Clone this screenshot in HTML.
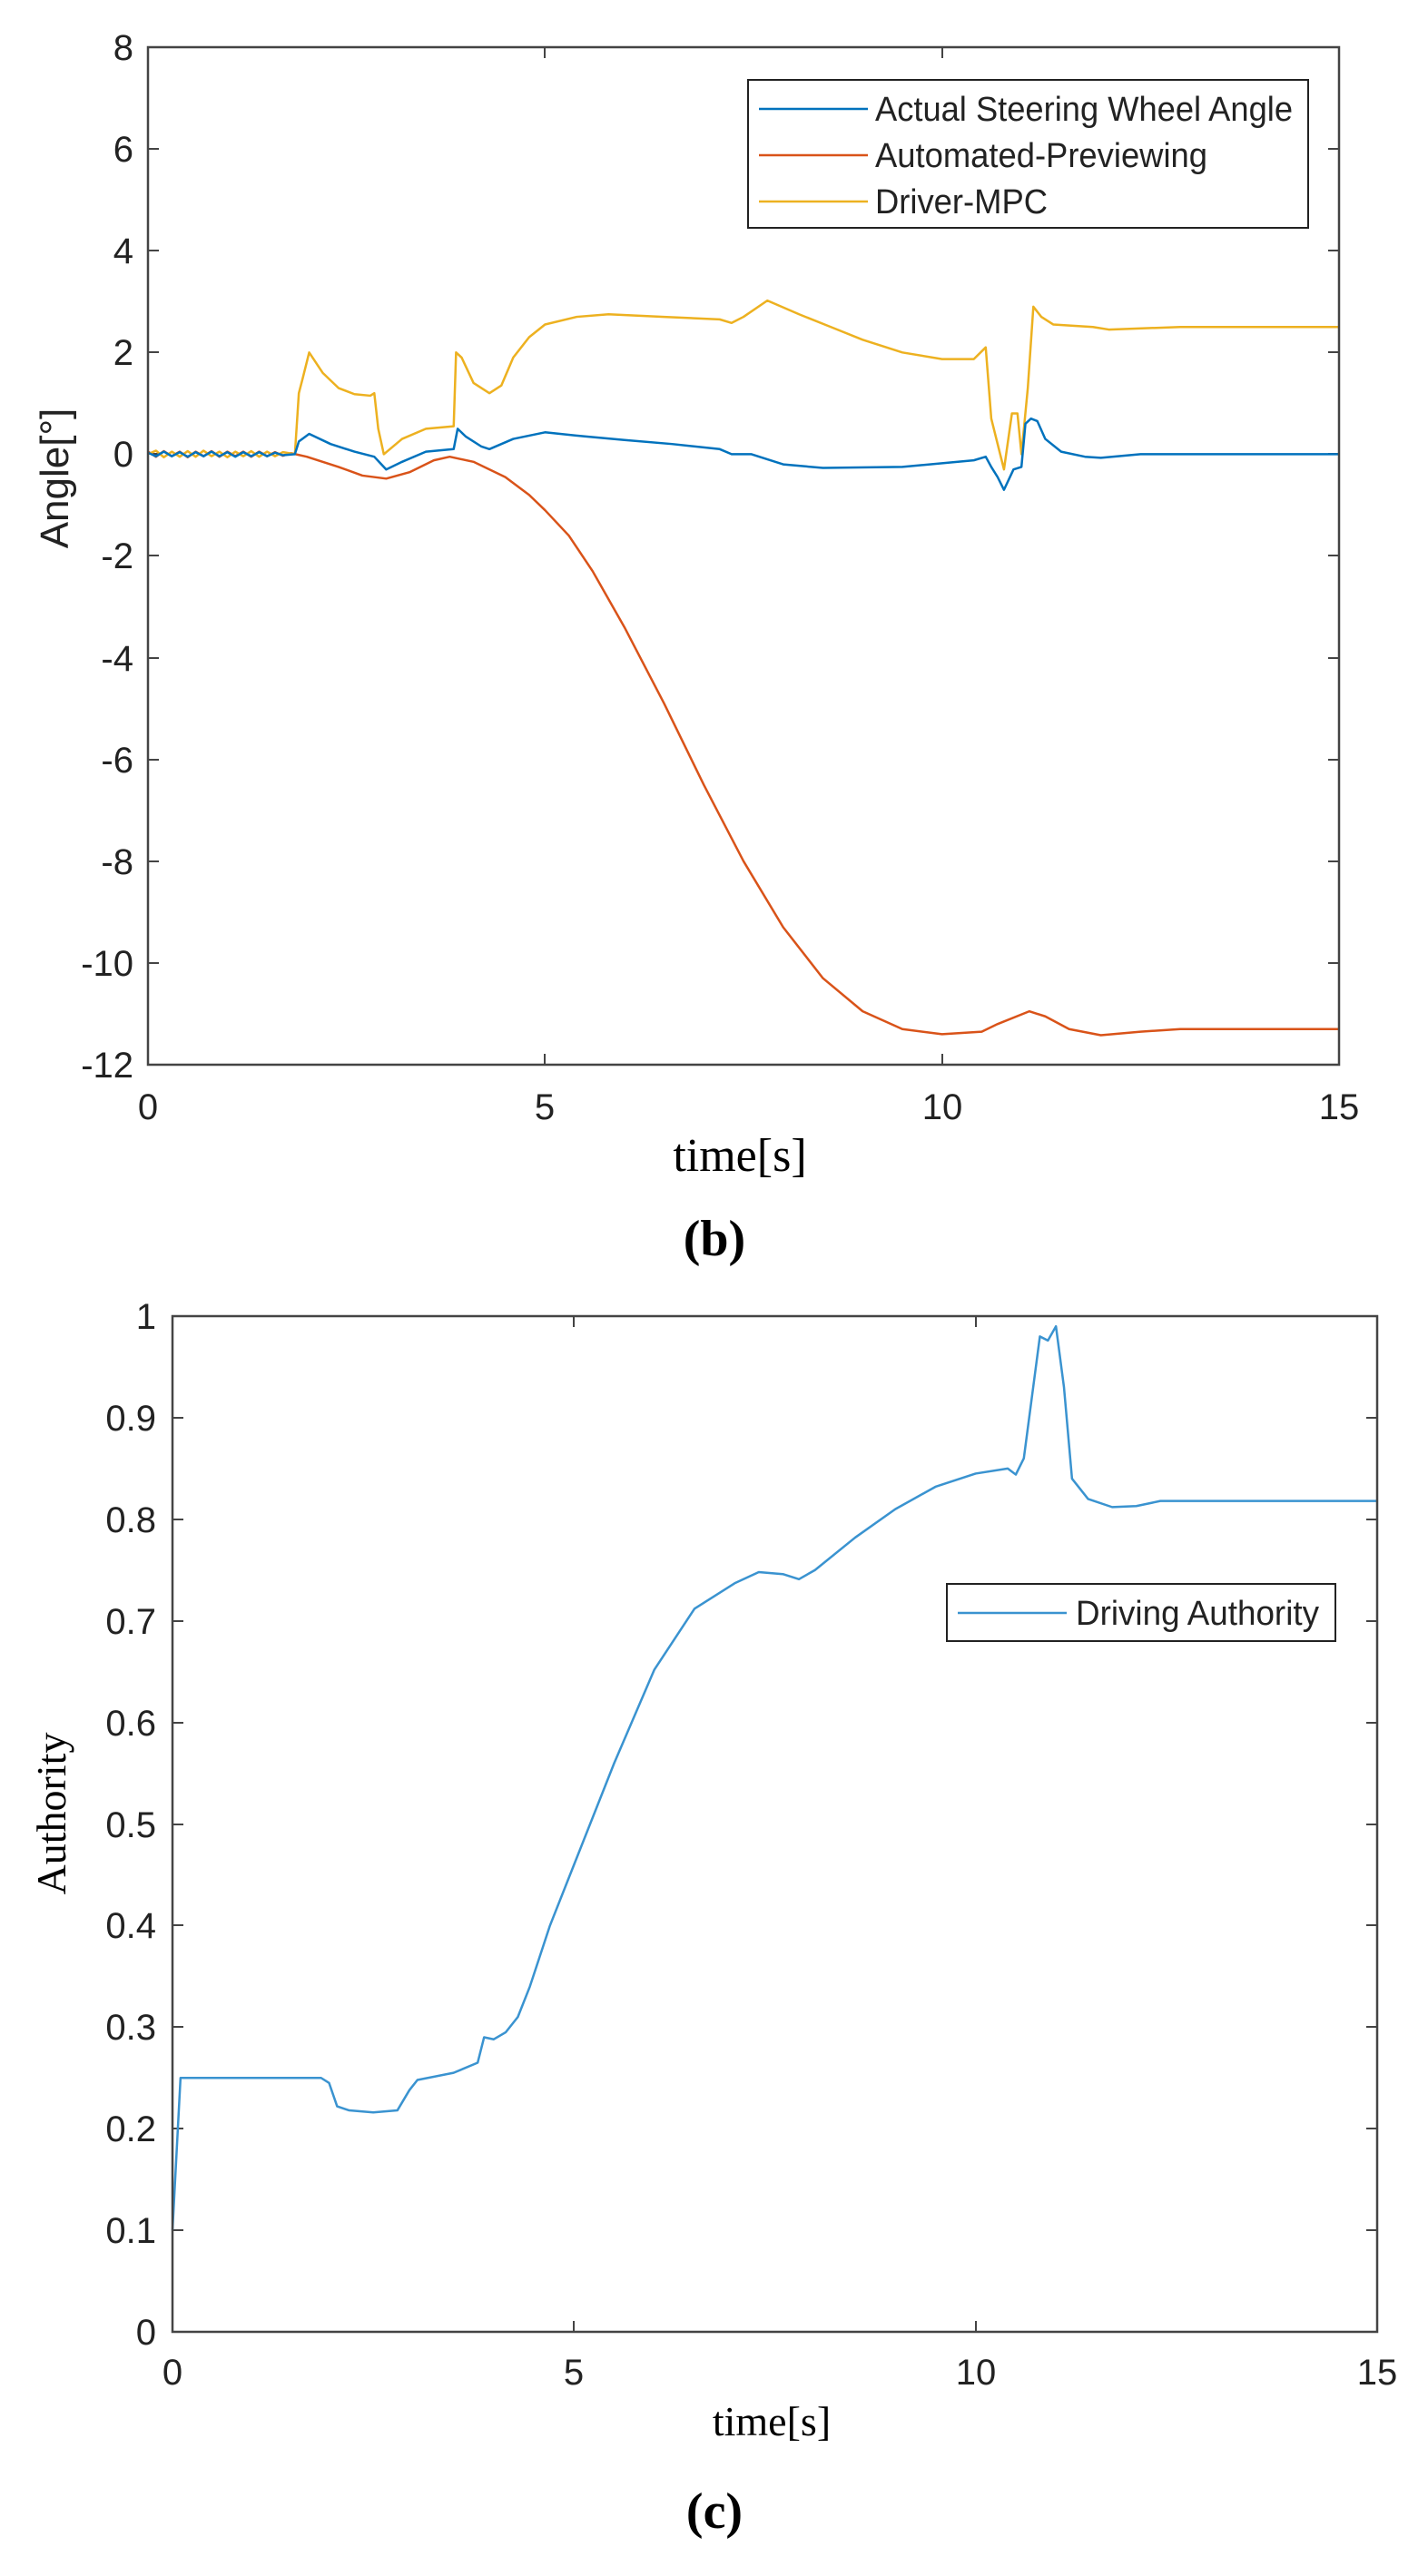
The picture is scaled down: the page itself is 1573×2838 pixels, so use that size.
<!DOCTYPE html>
<html><head><meta charset="utf-8"><style>
html,body{margin:0;padding:0;background:#fff}
svg{display:block}
.tk{font-family:"Liberation Sans",sans-serif;font-size:40px;fill:#222}
.tk2{font-family:"Liberation Sans",sans-serif;font-size:38px;fill:#222}
.ser{font-family:"Liberation Serif",serif;fill:#000}
</style></head><body>
<svg width="1573" height="2838" viewBox="0 0 1573 2838" xmlns="http://www.w3.org/2000/svg">
<rect width="1573" height="2838" fill="#fff"/>
<g stroke="#444" stroke-width="2">
<line x1="163" y1="164" x2="175" y2="164"/><line x1="163" y1="276" x2="175" y2="276"/><line x1="163" y1="388" x2="175" y2="388"/><line x1="163" y1="500" x2="175" y2="500"/><line x1="163" y1="612" x2="175" y2="612"/><line x1="163" y1="725" x2="175" y2="725"/><line x1="163" y1="837" x2="175" y2="837"/><line x1="163" y1="949" x2="175" y2="949"/><line x1="163" y1="1061" x2="175" y2="1061"/>
<line x1="1475" y1="164" x2="1463" y2="164"/><line x1="1475" y1="276" x2="1463" y2="276"/><line x1="1475" y1="388" x2="1463" y2="388"/><line x1="1475" y1="500" x2="1463" y2="500"/><line x1="1475" y1="612" x2="1463" y2="612"/><line x1="1475" y1="725" x2="1463" y2="725"/><line x1="1475" y1="837" x2="1463" y2="837"/><line x1="1475" y1="949" x2="1463" y2="949"/><line x1="1475" y1="1061" x2="1463" y2="1061"/>
<line x1="600" y1="1173" x2="600" y2="1161"/><line x1="1038" y1="1173" x2="1038" y2="1161"/>
<line x1="600" y1="52" x2="600" y2="64"/><line x1="1038" y1="52" x2="1038" y2="64"/>
</g>
<g fill="none" stroke-linejoin="round" transform="translate(163,52) scale(87.47,-56.05) translate(0,-8)">
<polyline vector-effect="non-scaling-stroke" stroke="#D95319" stroke-width="2.5" points="0,0.05 0.1,-0.05 0.2,0.06 0.3,-0.04 0.4,0.05 0.5,-0.06 0.6,0.05 0.7,-0.04 0.8,0.06 0.9,-0.05 1,0.05 1.1,-0.04 1.2,0.05 1.3,-0.05 1.4,0.05 1.5,-0.04 1.6,0.04 1.7,-0.03 1.8,0.02 2,-0.05 2.4,-0.25 2.7,-0.42 3,-0.48 3.3,-0.35 3.6,-0.12 3.8,-0.05 4.1,-0.15 4.5,-0.45 4.8,-0.8 5,-1.1 5.3,-1.6 5.6,-2.3 6,-3.4 6.5,-4.9 7,-6.5 7.5,-8.0 8,-9.3 8.5,-10.3 9,-10.95 9.5,-11.3 10,-11.4 10.5,-11.35 10.7,-11.2 11.1,-10.95 11.3,-11.05 11.6,-11.3 12,-11.42 12.5,-11.35 13,-11.3 15,-11.3"/>
<polyline vector-effect="non-scaling-stroke" stroke="#EDB120" stroke-width="2.5" points="0,0 0.1,0.07 0.2,-0.06 0.3,0.05 0.4,-0.05 0.5,0.06 0.6,-0.05 0.7,0.07 0.8,-0.04 0.9,0.05 1,-0.06 1.1,0.05 1.2,-0.04 1.3,0.06 1.4,-0.05 1.5,0.05 1.6,-0.04 1.7,0.04 1.85,0 1.9,1.2 1.95,1.5 2.03,2.0 2.2,1.6 2.4,1.3 2.6,1.18 2.8,1.15 2.85,1.2 2.9,0.5 2.97,0 3.2,0.3 3.5,0.5 3.85,0.55 3.88,2.0 3.95,1.9 4.1,1.4 4.3,1.2 4.45,1.35 4.6,1.9 4.8,2.3 5,2.55 5.4,2.7 5.8,2.75 6.5,2.7 7.2,2.65 7.35,2.58 7.5,2.7 7.8,3.02 8.2,2.75 8.6,2.5 9,2.25 9.5,2.0 10,1.87 10.4,1.87 10.55,2.1 10.62,0.7 10.7,0.2 10.78,-0.3 10.88,0.8 10.95,0.8 11.0,0 11.08,1.3 11.15,2.9 11.25,2.7 11.4,2.55 11.9,2.5 12.1,2.45 13,2.5 15,2.5"/>
<polyline vector-effect="non-scaling-stroke" stroke="#0072BD" stroke-width="2.5" points="0,0.03 0.1,-0.04 0.2,0.05 0.3,-0.04 0.4,0.04 0.5,-0.05 0.6,0.04 0.7,-0.04 0.8,0.05 0.9,-0.04 1,0.04 1.1,-0.05 1.2,0.04 1.3,-0.04 1.4,0.04 1.5,-0.04 1.6,0.03 1.7,-0.02 1.85,0 1.9,0.25 2.03,0.4 2.3,0.2 2.6,0.05 2.85,-0.05 3.0,-0.3 3.2,-0.15 3.5,0.05 3.85,0.1 3.9,0.5 4.0,0.35 4.2,0.15 4.3,0.1 4.6,0.3 5.0,0.43 5.5,0.35 6,0.28 6.6,0.2 7.2,0.1 7.35,0 7.6,0.0 8,-0.2 8.5,-0.27 9.5,-0.25 10.4,-0.12 10.55,-0.05 10.62,-0.25 10.7,-0.45 10.78,-0.7 10.9,-0.3 11.0,-0.25 11.05,0.6 11.12,0.7 11.2,0.65 11.3,0.3 11.5,0.05 11.8,-0.05 12,-0.07 12.5,0 15,0"/>
</g>
<rect x="163" y="52" width="1312" height="1121" fill="none" stroke="#444" stroke-width="2.5"/>
<g class="tk" text-anchor="end">
<text x="147" y="66">8</text><text x="147" y="178">6</text><text x="147" y="290">4</text><text x="147" y="402">2</text><text x="147" y="514">0</text><text x="147" y="626">-2</text><text x="147" y="739">-4</text><text x="147" y="851">-6</text><text x="147" y="963">-8</text><text x="147" y="1075">-10</text><text x="147" y="1187">-12</text>
</g>
<g class="tk" text-anchor="middle">
<text x="163" y="1233">0</text><text x="600" y="1233">5</text><text x="1038" y="1233">10</text><text x="1475" y="1233">15</text>
</g>
<text class="ser" x="815" y="1290" font-size="52" text-anchor="middle">time[s]</text>
<text class="ser" x="787" y="1383" font-size="56" font-weight="bold" text-anchor="middle">(b)</text>
<text x="75" y="527" font-family="Liberation Sans,sans-serif" font-size="44" fill="#222" text-anchor="middle" transform="rotate(-90 75 527)">Angle[°]</text>
<rect x="824" y="88" width="617" height="163" fill="#fff" stroke="#222" stroke-width="2"/>
<line x1="836" y1="120" x2="956" y2="120" stroke="#0072BD" stroke-width="2.5"/>
<line x1="836" y1="171" x2="956" y2="171" stroke="#D95319" stroke-width="2.5"/>
<line x1="836" y1="222" x2="956" y2="222" stroke="#EDB120" stroke-width="2.5"/>
<g class="tk2">
<text x="964" y="133" textLength="460" lengthAdjust="spacingAndGlyphs">Actual Steering Wheel Angle</text>
<text x="964" y="184" textLength="366" lengthAdjust="spacingAndGlyphs">Automated-Previewing</text>
<text x="964" y="235" textLength="190" lengthAdjust="spacingAndGlyphs">Driver-MPC</text>
</g>
<g stroke="#444" stroke-width="2">
<line x1="190" y1="1562" x2="202" y2="1562"/><line x1="190" y1="1674" x2="202" y2="1674"/><line x1="190" y1="1786" x2="202" y2="1786"/><line x1="190" y1="1898" x2="202" y2="1898"/><line x1="190" y1="2010" x2="202" y2="2010"/><line x1="190" y1="2121" x2="202" y2="2121"/><line x1="190" y1="2233" x2="202" y2="2233"/><line x1="190" y1="2345" x2="202" y2="2345"/><line x1="190" y1="2457" x2="202" y2="2457"/>
<line x1="1517" y1="1562" x2="1505" y2="1562"/><line x1="1517" y1="1674" x2="1505" y2="1674"/><line x1="1517" y1="1786" x2="1505" y2="1786"/><line x1="1517" y1="1898" x2="1505" y2="1898"/><line x1="1517" y1="2010" x2="1505" y2="2010"/><line x1="1517" y1="2121" x2="1505" y2="2121"/><line x1="1517" y1="2233" x2="1505" y2="2233"/><line x1="1517" y1="2345" x2="1505" y2="2345"/><line x1="1517" y1="2457" x2="1505" y2="2457"/>
<line x1="632" y1="2569" x2="632" y2="2557"/><line x1="1075" y1="2569" x2="1075" y2="2557"/>
<line x1="632" y1="1450" x2="632" y2="1462"/><line x1="1075" y1="1450" x2="1075" y2="1462"/>
</g>
<g fill="none" stroke-linejoin="round" transform="translate(190,2569) scale(88.47,-1119)">
<polyline vector-effect="non-scaling-stroke" stroke="#3a93d0" stroke-width="2.5" points="0,0.1 0.1,0.25 1.85,0.25 1.95,0.245 2.05,0.222 2.2,0.218 2.5,0.216 2.8,0.218 2.95,0.238 3.05,0.248 3.5,0.255 3.8,0.265 3.88,0.29 4.0,0.288 4.15,0.295 4.3,0.31 4.45,0.34 4.7,0.4 5,0.46 5.5,0.56 6,0.652 6.5,0.712 7.0,0.737 7.3,0.748 7.6,0.746 7.8,0.741 8.0,0.75 8.5,0.782 9,0.81 9.5,0.832 10,0.845 10.4,0.85 10.5,0.844 10.6,0.86 10.8,0.98 10.9,0.976 11,0.99 11.1,0.93 11.2,0.84 11.4,0.82 11.7,0.812 12,0.813 12.3,0.818 15,0.818"/>
</g>
<rect x="190" y="1450" width="1327" height="1119" fill="none" stroke="#444" stroke-width="2.5"/>
<g class="tk" text-anchor="end" font-size="38">
<text x="172" y="1464">1</text><text x="172" y="1576">0.9</text><text x="172" y="1688">0.8</text><text x="172" y="1800">0.7</text><text x="172" y="1912">0.6</text><text x="172" y="2024">0.5</text><text x="172" y="2135">0.4</text><text x="172" y="2247">0.3</text><text x="172" y="2359">0.2</text><text x="172" y="2471">0.1</text><text x="172" y="2583">0</text>
</g>
<g class="tk" text-anchor="middle">
<text x="190" y="2627">0</text><text x="632" y="2627">5</text><text x="1075" y="2627">10</text><text x="1517" y="2627">15</text>
</g>
<text class="ser" x="850" y="2683" font-size="46" text-anchor="middle">time[s]</text>
<text class="ser" x="787" y="2785" font-size="56" font-weight="bold" text-anchor="middle">(c)</text>
<text class="ser" x="72" y="1998" font-size="46" text-anchor="middle" transform="rotate(-90 72 1998)">Authority</text>
<rect x="1043" y="1745" width="428" height="63" fill="#fff" stroke="#222" stroke-width="2"/>
<line x1="1055" y1="1777" x2="1175" y2="1777" stroke="#3a93d0" stroke-width="2.5"/>
<text class="tk2" x="1185" y="1790" textLength="268" lengthAdjust="spacingAndGlyphs">Driving Authority</text>
</svg>
</body></html>
